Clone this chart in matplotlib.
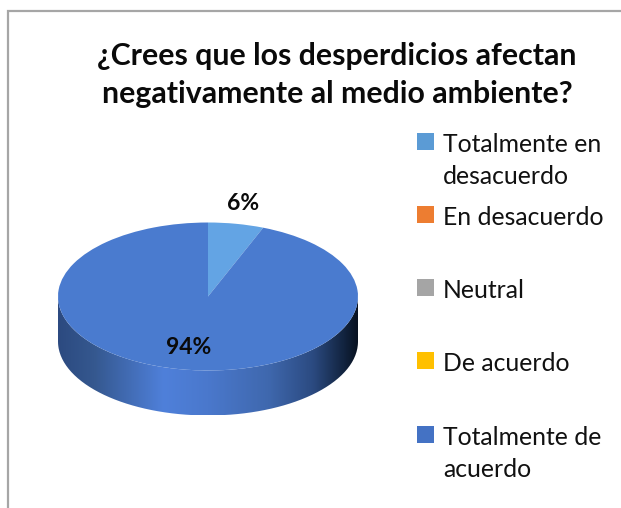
import matplotlib
matplotlib.use('Agg')
import matplotlib.pyplot as plt
import numpy as np
from matplotlib.colors import LinearSegmentedColormap
from matplotlib.patches import PathPatch, Rectangle
from matplotlib.path import Path

titulo = '¿Crees que los desperdicios afectan\nnegativamente al medio ambiente?'
categorias = ['Totalmente en\ndesacuerdo', 'En desacuerdo', 'Neutral', 'De acuerdo', 'Totalmente de\nacuerdo']
valores = [6, 0, 0, 0, 94]
colores_leyenda = ['#5B9BD5', '#ED7D31', '#A5A5A5', '#FFC000', '#4472C4']
colores_pie = ['#63A4E4', '#ED7D31', '#A5A5A5', '#FFC000', '#4A7BCF']

W, H = 621, 508
plt.rcParams['font.family'] = ['Lato', 'DejaVu Sans']

fig = plt.figure(figsize=(W / 100, H / 100), dpi=100)

# axes covering the pie, stretched so the circle becomes an ellipse
cx, cy, rx, ry = 208, 296.5, 150, 74
depth = 45
ax_w, ax_h = rx * 2.5, ry * 2.5 + 2 * depth
ax = fig.add_axes([(cx - ax_w / 2) / W, 1 - (cy + ax_h / 2) / H, ax_w / W, ax_h / H])

ax.pie(valores, colors=colores_pie, startangle=90, counterclock=False, radius=1,
       wedgeprops=dict(linewidth=0))
ax.set_aspect('auto')
ylim = ax_h / 2 / ry
ax.set_xlim(-1.25, 1.25)
ax.set_ylim(-ylim, ylim)

# side wall of the cylinder, gradient clipped to the lower half outline
d = depth / ry
t = np.linspace(np.pi, 2 * np.pi, 200)
xs = np.cos(t)
ys = np.sin(t)
verts = np.column_stack([np.r_[xs, xs[::-1]], np.r_[ys - d, ys[::-1]]])
lado = PathPatch(Path(verts), transform=ax.transData, facecolor='none', edgecolor='none')
ax.add_patch(lado)
grad = LinearSegmentedColormap.from_list('lado', [
    (0.0, '#2C4A80'), (0.12, '#35588F'), (0.35, '#4F80DA'), (0.5, '#4A78CC'),
    (0.7, '#3F68AE'), (0.85, '#2B4A80'), (0.95, '#122440'), (1.0, '#08111F')])
img = ax.imshow(np.linspace(0, 1, 256).reshape(1, -1), cmap=grad, aspect='auto',
                extent=(-1, 1, -1 - d, 0.05), zorder=0.5)
img.set_clip_path(lado)
ax.set_xlim(-1.25, 1.25)
ax.set_ylim(-ylim, ylim)
ax.set_aspect('auto')

# overlay in pixel coordinates for the frame, text and legend
ov = fig.add_axes([0, 0, 1, 1], facecolor='none')
ov.set_xlim(0, W)
ov.set_ylim(H, 0)
ov.axis('off')

ov.plot([8, 8, W], [H, 10.5, 10.5], color='#A6A6A6', linewidth=1.6, solid_joinstyle='miter')

ov.text(337, 75, titulo, ha='center', va='center', fontsize=21.8, fontweight='bold',
        color='#0A0A0A', linespacing=1.42)

ov.text(243, 203, f'{valores[0]}%', ha='center', va='center', fontsize=16.5,
        fontweight='bold', color='#0A0A0A')
ov.text(188.5, 347, f'{valores[4]}%', ha='center', va='center', fontsize=16.5,
        fontweight='bold', color='#0A0A0A')

for i, (cat, col) in enumerate(zip(categorias, colores_leyenda)):
    y = 141.5 + i * 73.3
    ov.add_patch(Rectangle((417, y - 9), 17, 17, facecolor=col, edgecolor='none'))
    ov.text(443, y - 9, cat, ha='left', va='top', fontsize=17.8, color='#111111',
            linespacing=1.5)

fig.savefig('out.png', dpi=100)
